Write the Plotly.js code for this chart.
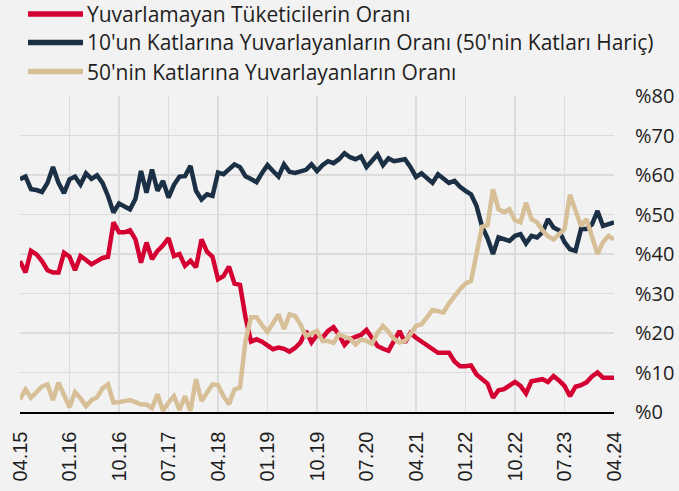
<!DOCTYPE html>
<html>
<head>
<meta charset="utf-8">
<script src="https://cdn.plot.ly/plotly-3.0.1.min.js"></script>
<style>
html,body{margin:0;padding:0;background:#f2f2f2;}
#chart{width:679px;height:491px;}
</style>
</head>
<body>
<div id="chart"></div>
<script>
// Monthly, 04.15 .. 04.24
const startYear = 2015, startMonth = 4, nMonths = 109;
const tickLabels = ["04.15","01.16","10.16","07.17","04.18","01.19","10.19","07.20","04.21","01.22","10.22","07.23","04.24"];
const seriesNames = [
  "Yuvarlamayan Tüketicilerin Oranı",
  "10'un Katlarına Yuvarlayanların Oranı (50'nin Katları Hariç)",
  "50'nin Katlarına Yuvarlayanların Oranı"
];
const noRounding = [38.2,35.3,40.8,39.9,38.2,35.9,35.3,35.3,40.3,39.3,35.9,39.5,38.5,37.4,38.2,39.0,39.3,48.0,45.5,45.5,
  46.0,43.7,37.8,42.9,38.7,40.8,42.2,44.0,39.5,40.0,37.0,38.3,36.6,43.7,40.6,39.3,33.6,34.4,36.8,32.5,
  32.2,24.0,17.8,18.4,17.8,17.0,15.9,16.3,16.0,15.3,16.2,17.6,20.5,17.6,19.5,18.8,20.5,21.5,19.5,17.0,
  18.5,19.0,19.5,20.8,18.5,16.7,16.0,15.5,18.0,20.5,17.6,20.0,18.8,17.8,17.0,16.0,15.0,15.0,15.0,12.8,
  11.6,11.6,11.8,9.5,8.5,7.2,3.6,5.5,5.8,6.8,7.6,6.6,4.7,7.8,8.0,8.3,7.6,9.1,8.0,6.6,
  4.0,6.4,6.8,7.5,9.0,10.0,8.7,8.7,8.7];
const roundTo10 = [58.9,59.6,56.4,56.2,55.7,58.0,62.0,58.0,55.4,58.9,59.6,57.6,60.4,59.0,59.9,58.0,54.7,50.5,52.8,52.0,
  51.3,54.0,61.0,55.5,61.4,56.0,58.5,54.3,57.5,59.6,59.7,62.3,56.0,53.8,55.1,54.7,60.6,60.2,61.5,62.7,
  62.0,59.7,59.0,58.2,60.5,62.5,61.0,59.6,62.7,60.8,60.5,61.0,61.3,62.7,61.0,62.5,63.5,63.0,64.0,65.5,
  64.5,64.0,64.7,62.0,63.5,65.2,62.5,64.2,63.5,63.8,64.0,62.0,59.5,60.4,59.0,58.0,60.2,59.0,58.0,58.5,
  57.0,56.0,55.1,52.2,47.0,44.0,40.0,44.2,43.7,43.3,44.6,45.0,42.7,44.6,44.2,45.5,48.8,46.7,46.0,43.0,
  41.2,40.8,46.3,46.3,47.5,50.9,47.1,47.5,48.0];
const roundTo50 = [3.2,5.7,3.6,5.0,6.5,7.0,3.0,7.4,4.0,1.2,5.0,3.5,1.5,3.0,3.7,6.0,7.0,2.4,2.5,2.8,
  3.0,2.5,1.9,1.9,1.0,4.5,0.3,2.4,4.0,0.5,4.0,0.3,8.3,2.8,4.9,7.0,6.8,4.0,2.0,5.7,
  6.2,18.0,24.0,24.0,22.0,20.3,22.5,24.7,21.0,24.7,24.3,22.2,19.2,19.8,20.5,18.0,18.0,17.5,19.7,19.0,
  18.6,17.1,18.4,18.0,17.3,20.0,21.8,20.3,18.5,17.6,18.0,19.7,21.8,22.2,24.0,25.8,25.5,25.2,27.5,29.5,
  31.1,32.5,33.2,40.0,46.9,47.3,56.4,51.3,50.6,51.3,48.5,48.0,53.0,48.8,48.0,46.0,44.5,43.7,45.0,46.3,
  55.0,51.3,47.1,48.8,44.0,40.0,43.0,44.6,43.7];

const colors = ["#d50032", "#1b2f45", "#d7bf98"];
const yTicks = [0,10,20,30,40,50,60,70,80];

const xIdx = Array.from({length:nMonths}, (_,i)=>i);
const tickVals = tickLabels.map((_,k)=>k*9);

const series = [noRounding, roundTo10, roundTo50];
const traces = series.map((vals,k)=>({
  x: xIdx, y: vals, type:'scatter', mode:'lines', name: seriesNames[k],
  line:{color:colors[k], width:4.5}, showlegend:false, hoverinfo:'skip'
}));

const plotL = 20, plotR = 614, plotT = 96, plotB = 412;
const pw = plotR-plotL, ph = plotB-plotT;
const legendRows = [14, 42.5, 71.5];
const shapes = [], annotations = [];
seriesNames.forEach((nm,k)=>{
  const yp = (plotB - legendRows[k]) / ph;
  shapes.push({type:'line', xref:'paper', yref:'paper',
    x0:(28-plotL)/pw, x1:(83-plotL)/pw, y0:yp, y1:yp,
    line:{color:colors[k], width:5.5}});
  annotations.push({xref:'paper', yref:'paper', x:(85-plotL)/pw, y:yp,
    xanchor:'left', yanchor:'middle', showarrow:false, text:nm,
    font:{family:'Open Sans', size:21, color:'#1e1e1e'}});
});

const layout = {
  width:679, height:491,
  paper_bgcolor:'#f2f2f2', plot_bgcolor:'#f2f2f2',
  margin:{l:plotL, r:679-plotR, t:plotT, b:491-plotB, pad:0},
  showlegend:false,
  xaxis:{
    range:[0,108], tickmode:'array', tickvals:tickVals, ticktext:tickLabels,
    tickangle:-90, showgrid:true, gridcolor:'#dcdcdc', gridwidth:1.5,
    zeroline:false, showline:true, linecolor:'#000000', linewidth:1.5,
    ticks:'', ticklabelstandoff:10,
    tickfont:{family:'Liberation Sans, Arial', size:20, color:'#1e1e1e'}
  },
  yaxis:{
    range:[0,80], side:'right', tickmode:'array', tickvals:yTicks,
    ticktext:yTicks.map(v=>'%'+v), showgrid:true, gridcolor:'#dcdcdc', gridwidth:1.5,
    zeroline:false, showline:false, ticks:'', ticklabelstandoff:20,
    tickfont:{family:'Open Sans', size:20, color:'#1e1e1e'}
  },
  shapes: shapes,
  annotations: annotations
};
Plotly.newPlot('chart', traces, layout, {displayModeBar:false, staticPlot:true});
</script>
</body>
</html>
